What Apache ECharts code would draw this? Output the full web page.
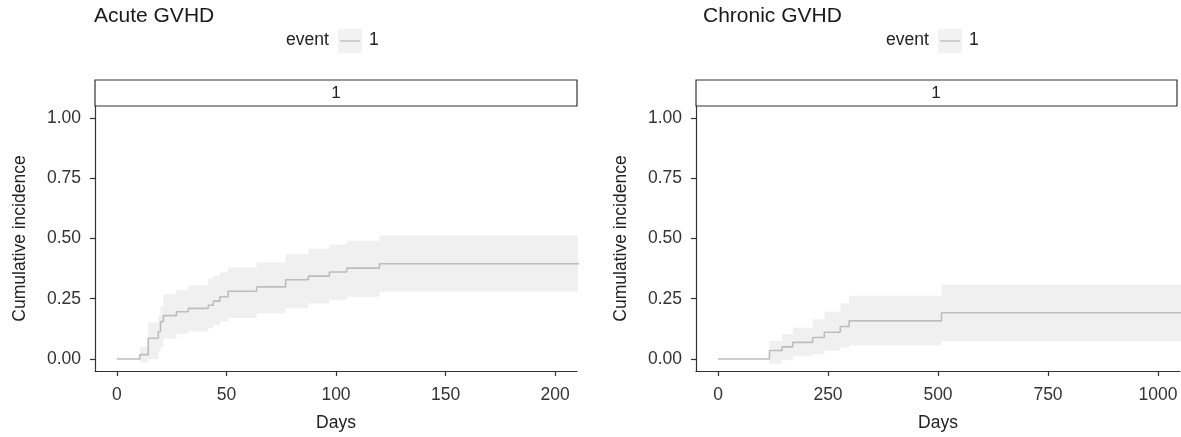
<!DOCTYPE html>
<html><head><meta charset="utf-8">
<script src="https://cdn.jsdelivr.net/npm/echarts@6/dist/echarts.min.js"></script>
<style>html,body{margin:0;padding:0;background:#fff}#c{width:1181px;height:437px}</style>
</head><body><div id="c"></div>
<script>
// Acute GVHD cumulative incidence (step function) with confidence band
const acuteDays  = [0, 10.5, 14.3, 18.9, 19.9, 21.2, 27.2, 32.6, 41.7, 44, 47, 50.8, 63.8, 77, 87.4, 97, 104.9, 119.8, 230];
const acuteEst   = [0, 0.018, 0.086, 0.114, 0.155, 0.18, 0.196, 0.21, 0.223, 0.24, 0.258, 0.281, 0.299, 0.329, 0.344, 0.361, 0.377, 0.395, 0.395];
const acuteLower = [0, -0.015, 0.0, 0.03, 0.05, 0.084, 0.105, 0.114, 0.128, 0.14, 0.155, 0.169, 0.189, 0.21, 0.23, 0.244, 0.258, 0.279, 0.279];
const acuteUpper = [0, 0.05, 0.15, 0.18, 0.22, 0.27, 0.285, 0.306, 0.333, 0.345, 0.36, 0.38, 0.40, 0.436, 0.457, 0.475, 0.491, 0.512, 0.512];

// Chronic GVHD
const chronicDays  = [0, 117, 145.5, 170, 215, 241.7, 278, 298, 508, 1100];
const chronicEst   = [0, 0.035, 0.05, 0.069, 0.089, 0.111, 0.135, 0.158, 0.192, 0.192];
const chronicLower = [0, -0.02, -0.005, 0.011, 0.02, 0.034, 0.048, 0.057, 0.073, 0.073];
const chronicUpper = [0, 0.075, 0.103, 0.13, 0.165, 0.196, 0.23, 0.262, 0.309, 0.309];

const yTicks = [0, 0.25, 0.5, 0.75, 1];
const acuteXTicks = [0, 50, 100, 150, 200];
const chronicXTicks = [0, 250, 500, 750, 1000];

const FONT = '"Liberation Sans", Arial, Helvetica, sans-serif';
const LINE = '#bdbdbd';
const FILL = '#f0f0f0';
const AX = '#333333';

const panels = [
  {title:'Acute GVHD', days:acuteDays, est:acuteEst, lo:acuteLower, hi:acuteUpper, xticks:acuteXTicks, xmin:-10, xmax:210, step:50, left:95, width:482, titleX:94, legX:286},
  {title:'Chronic GVHD', days:chronicDays, est:chronicEst, lo:chronicLower, hi:chronicUpper, xticks:chronicXTicks, xmin:-50, xmax:1050, step:250, left:696, width:484, titleX:703, legX:886}
];
const TOP = 106, HEIGHT = 266;

const grids = [], xAxes = [], yAxes = [], series = [], graphics = [];
panels.forEach((p, i) => {
  grids.push({left:p.left, top:TOP, width:p.width, height:HEIGHT, containLabel:false});
  xAxes.push({
    type:'value', gridIndex:i, min:p.xmin, max:p.xmax, interval:p.step, z:10,
    name:'Days', nameLocation:'middle', nameGap:43,
    nameTextStyle:{fontFamily:FONT, fontSize:17.5, color:'#222'},
    axisLine:{show:true, onZero:false, lineStyle:{color:AX, width:1.2}},
    axisTick:{show:true, length:5, lineStyle:{color:AX, width:1.2}, customValues:p.xticks},
    axisLabel:{fontFamily:FONT, fontSize:17.5, color:'#333', margin:15,
      customValues:p.xticks, formatter:v=>String(v)},
    splitLine:{show:false}
  });
  yAxes.push({
    type:'value', gridIndex:i, min:-0.05, max:1.05, z:10,
    name:'Cumulative incidence', nameLocation:'middle', nameGap:66, nameRotate:90,
    nameTextStyle:{fontFamily:FONT, fontSize:17.5, color:'#222'},
    axisLine:{show:true, onZero:false, lineStyle:{color:AX, width:1.2}},
    axisTick:{show:true, length:5, lineStyle:{color:AX, width:1.2}, customValues:yTicks},
    axisLabel:{fontFamily:FONT, fontSize:17.5, color:'#333', margin:14,
      customValues:yTicks, formatter:v=>v.toFixed(2)},
    splitLine:{show:false}
  });
  // confidence band: upper bound filled down to the axis bottom, then lower bound masked in white
  series.push({
    type:'line', xAxisIndex:i, yAxisIndex:i, step:'end',
    data:p.days.map((d,k)=>[d, p.hi[k]]), symbol:'none', silent:true,
    lineStyle:{opacity:0}, areaStyle:{color:FILL, opacity:1, origin:'start'}, z:1
  });
  series.push({
    type:'line', xAxisIndex:i, yAxisIndex:i, step:'end',
    data:p.days.map((d,k)=>[d, p.lo[k]]), symbol:'none', silent:true,
    lineStyle:{opacity:0}, areaStyle:{color:'#ffffff', opacity:1, origin:'start'}, z:2
  });
  series.push({
    type:'line', xAxisIndex:i, yAxisIndex:i, step:'end',
    data:p.days.map((d,k)=>[d, p.est[k]]), symbol:'none', silent:true,
    lineStyle:{color:LINE, width:1.6}, z:3
  });
  // title
  graphics.push({type:'text', left:p.titleX, top:6,
    style:{text:p.title, font:'21px '+FONT, fill:'#1a1a1a'}});
  // legend
  graphics.push({type:'text', left:p.legX, top:31,
    style:{text:'event', font:'17.5px '+FONT, fill:'#222'}});
  graphics.push({type:'rect', left:p.legX+52, top:29, shape:{width:24, height:24}, style:{fill:'#f2f2f2'}});
  graphics.push({type:'line', shape:{x1:p.legX+54, y1:41, x2:p.legX+74, y2:41}, style:{stroke:'#c4c4c4', lineWidth:1.6}});
  graphics.push({type:'text', left:p.legX+83, top:31,
    style:{text:'1', font:'17.5px '+FONT, fill:'#222'}});
  // facet strip
  graphics.push({type:'rect', shape:{x:p.left, y:80, width:(i===0?482:481), height:TOP-80},
    style:{fill:'#ffffff', stroke:'#333', lineWidth:1.2}});
  graphics.push({type:'text', x:p.left + (i===0?241:240), y:93,
    style:{text:'1', font:'17px '+FONT, fill:'#222', align:'center', verticalAlign:'middle'}});
});

const chart = echarts.init(document.getElementById('c'), null, {renderer:'canvas'});
chart.setOption({
  animation:false,
  backgroundColor:'#ffffff',
  grid:grids, xAxis:xAxes, yAxis:yAxes, series:series, graphic:graphics
});
</script>
</body></html>
